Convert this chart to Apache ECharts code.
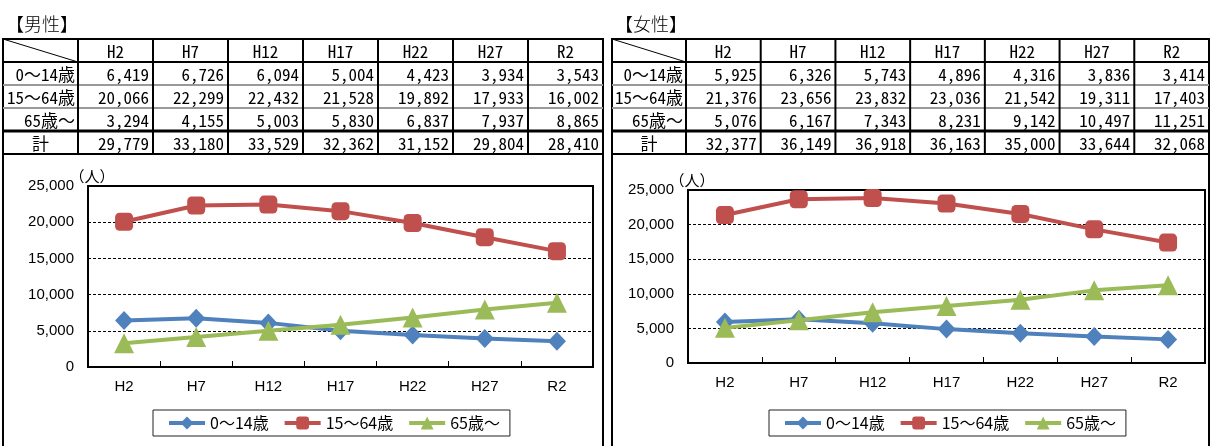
<!DOCTYPE html>
<html><head><meta charset="utf-8">
<script src="https://cdn.jsdelivr.net/npm/echarts@6/dist/echarts.min.js"></script>
<style>html,body{margin:0;padding:0;background:#fff}#c{width:1213px;height:446px}</style>
</head><body><div id="c"></div>
<script>
// ---- data ----
const categories = ['H2','H7','H12','H17','H22','H27','R2'];
const seriesNames = ['0～14歳','15～64歳','65歳～'];
const rowLabels = ['0～14歳','15～64歳','65歳～','計'];
const panelTitles = ['【男性】','【女性】'];
const unitLabel = '（人）';
const male0to14   = [6419, 6726, 6094, 5004, 4423, 3934, 3543];
const male15to64  = [20066, 22299, 22432, 21528, 19892, 17933, 16002];
const male65plus  = [3294, 4155, 5003, 5830, 6837, 7937, 8865];
const maleTotal   = [29779, 33180, 33529, 32362, 31152, 29804, 28410];
const female0to14  = [5925, 6326, 5743, 4896, 4316, 3836, 3414];
const female15to64 = [21376, 23656, 23832, 23036, 21542, 19311, 17403];
const female65plus = [5076, 6167, 7343, 8231, 9142, 10497, 11251];
const femaleTotal  = [32377, 36149, 36918, 36163, 35000, 33644, 32068];
const yMin = 0, yMax = 25000, yInterval = 5000;

// ---- layout ----
const colors = ['#4F81BD', '#C0504D', '#9BBB59'];
const symbols = ['diamond', 'roundRect', 'triangle'];
const symbolSizes = [[18, 19], 18, 20];
const panels = [
  { title: panelTitles[0], rows: [male0to14, male15to64, male65plus, maleTotal],
    x0: 3, x1: 603, labelRight: 78, titleX: 6,
    grid: { left: 88, top: 186, width: 505, height: 181 }, legendLeft: 153 },
  { title: panelTitles[1], rows: [female0to14, female15to64, female65plus, femaleTotal],
    x0: 612, x1: 1209, labelRight: 686, titleX: 615,
    grid: { left: 688, top: 190, width: 517, height: 173 }, legendLeft: 769 }
];
const rowY = [39, 62, 85, 108, 131, 154];
const TFONT = '300 17px "Noto Sans Mono CJK JP", "Noto Sans CJK JP", monospace';
const LFONT = '300 17px "Noto Sans Mono CJK JP", "Noto Sans CJK JP", sans-serif';

const els = [];
function txt(x, y, text, align, font) {
  els.push({ type: 'text', x: x, y: y, silent: true, z: 10,
    style: { text: text, x: 0, y: 0, fill: '#000', font: font,
      align: align, textAlign: align, verticalAlign: 'middle', textVerticalAlign: 'middle' } });
}
function ln(x1, y1, x2, y2, stroke, w) {
  els.push({ type: 'line', silent: true, z: 9, shape: { x1, y1, x2, y2 }, style: { stroke: stroke, lineWidth: w } });
}
const fmt = v => v.toLocaleString('en-US');

panels.forEach(p => {
  const n = categories.length;
  const colW = (p.x1 - p.labelRight) / n;
  els.push({ type: 'rect', silent: true, z: 9,
    shape: { x: p.x0, y: rowY[0], width: p.x1 - p.x0, height: 470 - rowY[0] },
    style: { fill: 'none', stroke: '#000', lineWidth: 2 } });
  txt(p.titleX, 24, p.title, 'left', '300 18px "Noto Sans CJK JP"');
  ln(p.x0, rowY[1], p.x1, rowY[1], '#000', 2);
  ln(p.x0, rowY[2], p.x1, rowY[2], '#999', 2);
  ln(p.x0, rowY[3], p.x1, rowY[3], '#999', 2);
  ln(p.x0, rowY[4], p.x1, rowY[4], '#000', 3);
  ln(p.x0, rowY[5], p.x1, rowY[5], '#000', 2);
  for (let i = 0; i < n; i++) {
    const x = p.labelRight + i * colW;
    ln(x, rowY[0], x, rowY[5], '#000', 2);
  }
  ln(p.x0, rowY[0], p.labelRight, rowY[1], '#000', 1);
  categories.forEach((c, i) => txt(p.labelRight + (i + 0.5) * colW, (rowY[0] + rowY[1]) / 2 + 1, c, 'center', TFONT));
  rowLabels.forEach((lab, r) => {
    const cy = (rowY[r + 1] + rowY[r + 2]) / 2 + 1.5;
    if (r === 3) txt((p.x0 + p.labelRight) / 2, cy, lab, 'center', LFONT);
    else txt(p.labelRight - 3, cy, lab, 'right', LFONT);
    p.rows[r].forEach((v, i) => txt(p.labelRight + (i + 1) * colW - 4, cy, fmt(v), 'right', TFONT));
  });
  txt(p.grid.left + 4, p.grid.top - 10, unitLabel, 'center', '15px "Noto Sans CJK JP"');
});

const axisFont = { fontFamily: '"Liberation Sans", Arial, sans-serif', fontSize: 15, color: '#000' };
const series = [];
panels.forEach((p, gi) => {
  [0, 1, 2].forEach(k => {
    series.push({
      type: 'line', name: seriesNames[k], xAxisIndex: gi, yAxisIndex: gi,
      data: p.rows[k], symbol: symbols[k], symbolSize: symbolSizes[k],
      lineStyle: { color: colors[k], width: 4 }, itemStyle: { color: colors[k] },
      emphasis: { disabled: true }, z: 3 + k
    });
  });
});

const option = {
  animation: false,
  backgroundColor: '#fff',
  grid: panels.map(p => ({ left: p.grid.left, top: p.grid.top, width: p.grid.width, height: p.grid.height,
    show: true, borderColor: '#000', borderWidth: 2, containLabel: false, outerBoundsMode: 'none' })),
  xAxis: panels.map((p, i) => ({ type: 'category', gridIndex: i, data: categories, boundaryGap: true,
    axisLine: { show: true, lineStyle: { color: '#000', width: 2 } },
    axisTick: { show: true, inside: true, length: 6, lineStyle: { color: '#000', width: 1 } },
    axisLabel: Object.assign({ margin: 12 }, axisFont), splitLine: { show: false } })),
  yAxis: panels.map((p, i) => ({ type: 'value', gridIndex: i, min: yMin, max: yMax, interval: yInterval,
    axisLine: { show: true, lineStyle: { color: '#000', width: 2 } }, axisTick: { show: false },
    axisLabel: Object.assign({ margin: 14, formatter: fmt }, axisFont),
    splitLine: { show: true, lineStyle: { color: '#000', type: [3, 2], width: 1 } } })),
  legend: panels.map(p => ({ left: p.legendLeft, top: 410, orient: 'horizontal', data: seriesNames,
    selectedMode: false, itemWidth: 36, itemHeight: 16, itemGap: 14, padding: [5, 10, 5, 14],
    lineStyle: { width: 4 },
    borderColor: '#222', borderWidth: 1,
    textStyle: { fontFamily: '"Noto Sans CJK JP"', fontSize: 16, color: '#000' } })),
  series: series,
  graphic: { elements: els }
};
const chart = echarts.init(document.getElementById('c'), null, { renderer: 'canvas' });
chart.setOption(option);
</script></body></html>
